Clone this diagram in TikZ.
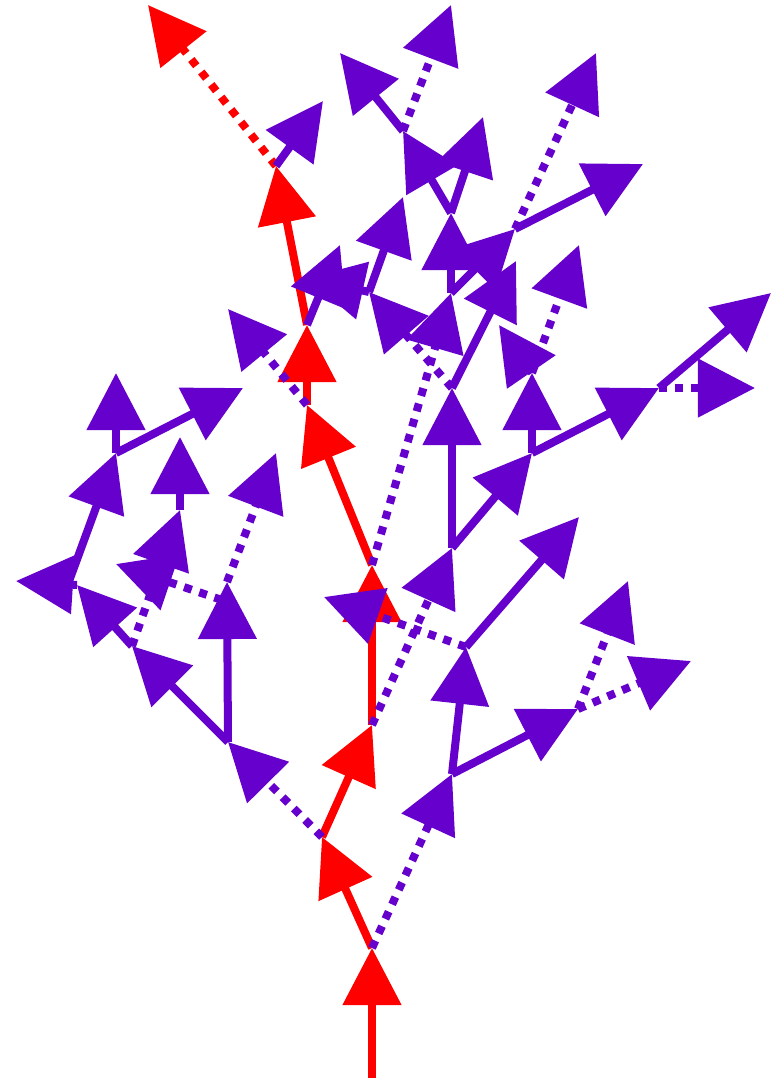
\documentclass[tikz,border=0pt]{standalone}
\usepackage{tikz}
\usetikzlibrary{positioning}
\usetikzlibrary{arrows.meta}

\definecolor{trunkred}{RGB}{255,0,0}
\definecolor{twigviolet}{RGB}{102,0,204}

\begin{document}
\begin{tikzpicture}[x=0.01cm, y=-0.01cm,
		branch/.style={line width=0.8mm, -{Triangle[length=5.7mm, width=5.7mm]}},
		hop/.style={branch, dash pattern=on 0.8mm off 0.8mm},
		trunk/.style={trunkred},
		twig/.style={twigviolet}]
	\useasboundingbox (0,0) rectangle (777,1078);
	\node[shape=coordinate] (r0)  at (372,1078) {};
	\node[shape=coordinate] (n1)  at (372,948) {};
	\node[shape=coordinate] (n2)  at (322,837) {};
	\node[shape=coordinate] (n3)  at (452,774) {};
	\node[shape=coordinate] (n4)  at (372,725) {};
	\node[shape=coordinate] (n5)  at (228,742) {};
	\node[shape=coordinate] (n6)  at (372,565) {};
	\node[shape=coordinate] (n7)  at (452,548) {};
	\node[shape=coordinate] (n8)  at (466,647) {};
	\node[shape=coordinate] (n9)  at (578,709) {};
	\node[shape=coordinate] (n10) at (691,661) {};
	\node[shape=coordinate] (n11) at (628,581) {};
	\node[shape=coordinate] (n12) at (579,517) {};
	\node[shape=coordinate] (n13) at (324,597) {};
	\node[shape=coordinate] (n14) at (452,388) {};
	\node[shape=coordinate] (n15) at (532,453) {};
	\node[shape=coordinate] (n16) at (532,373) {};
	\node[shape=coordinate] (n17) at (659,388) {};
	\node[shape=coordinate] (n18) at (771,293) {};
	\node[shape=coordinate] (n19) at (755,388) {};
	\node[shape=coordinate] (n20) at (579,245) {};
	\node[shape=coordinate] (n21) at (516,261) {};
	\node[shape=coordinate] (n22) at (307,405) {};
	\node[shape=coordinate] (n23) at (307,325) {};
	\node[shape=coordinate] (n24) at (228,309) {};
	\node[shape=coordinate] (n25) at (276,166) {};
	\node[shape=coordinate] (n26) at (148,5) {};
	\node[shape=coordinate] (n27) at (323,101) {};
	\node[shape=coordinate] (n28) at (227,582) {};
	\node[shape=coordinate] (n29) at (132,646) {};
	\node[shape=coordinate] (n30) at (276,453) {};
	\node[shape=coordinate] (s31) at (222,600) {};
	\node[shape=coordinate] (n31) at (116,564) {};
	\node[shape=coordinate] (n32) at (116,453) {};
	\node[shape=coordinate] (n33) at (116,373) {};
	\node[shape=coordinate] (n34) at (243,388) {};
	\node[shape=coordinate] (n35) at (77,585) {};
	\node[shape=coordinate] (s32) at (68,584) {};
	\node[shape=coordinate] (n36) at (16,581) {};
	\node[shape=coordinate] (n37) at (180,510) {};
	\node[shape=coordinate] (n38) at (180,437) {};
	\node[shape=coordinate] (n39) at (369,292) {};
	\node[shape=coordinate] (n40) at (403,197) {};
	\node[shape=coordinate] (n41) at (340,245) {};
	\node[shape=coordinate] (n42) at (307,278) {};
	\node[shape=coordinate] (n43) at (451,213) {};
	\node[shape=coordinate] (n44) at (403,131) {};
	\node[shape=coordinate] (n45) at (340,53) {};
	\node[shape=coordinate] (n46) at (451,5) {};
	\node[shape=coordinate] (n47) at (483,117) {};
	\node[shape=coordinate] (n48) at (451,293) {};
	\node[shape=coordinate] (n49) at (515,229) {};
	\node[shape=coordinate] (n50) at (643,164) {};
	\node[shape=coordinate] (n51) at (596,53) {};
	\node[shape=coordinate] (n52) at (499,325) {};
	\draw[branch, trunk] (r0) -- (n1);
	\draw[branch, trunk] (n1) -- (n2);
	\draw[branch, trunk] (n2) -- (n4);
	\draw[branch, trunk] (n4) -- (n6);
	\draw[branch, trunk] (n6) -- (n22);
	\draw[branch, trunk] (n22) -- (n23);
	\draw[branch, trunk] (n23) -- (n25);
	\draw[hop, trunk] (n25) -- (n26);
	\draw[branch, twig] (n25) -- (n27);
	\draw[branch, twig] (n23) -- (n41);
	\draw[hop, twig] (n22) -- (n24);
	\draw[hop, twig] (n6) -- (n48);
	\draw[branch, twig] (n48) -- (n43);
	\draw[branch, twig] (n43) -- (n44);
	\draw[branch, twig] (n44) -- (n45);
	\draw[hop, twig] (n44) -- (n46);
	\draw[branch, twig] (n43) -- (n47);
	\draw[branch, twig] (n48) -- (n49);
	\draw[branch, twig] (n49) -- (n50);
	\draw[hop, twig] (n49) -- (n51);
	\draw[hop, twig] (n4) -- (n7);
	\draw[branch, twig] (n7) -- (n14);
	\draw[branch, twig] (n14) -- (n21);
	\draw[hop, twig] (n14) -- (n39);
	\draw[branch, twig] (n39) -- (n40);
	\draw[branch, twig] (n39) -- (n42);
	\draw[branch, twig] (n7) -- (n15);
	\draw[branch, twig] (n15) -- (n16);
	\draw[hop, twig] (n16) -- (n20);
	\draw[branch, twig] (n16) -- (n52);
	\draw[branch, twig] (n15) -- (n17);
	\draw[branch, twig] (n17) -- (n18);
	\draw[hop, twig] (n17) -- (n19);
	\draw[hop, twig] (n2) -- (n5);
	\draw[branch, twig] (n5) -- (n28);
	\draw[hop, twig] (n28) -- (n30);
	\draw[hop, twig] (s31) -- (n31);
	\draw[branch, twig] (n5) -- (n29);
	\draw[branch, twig] (n29) -- (n35);
	\draw[branch, twig] (n35) -- (n36);
	\draw[branch, twig] (s32) -- (n32);
	\draw[branch, twig] (n32) -- (n33);
	\draw[branch, twig] (n32) -- (n34);
	\draw[hop, twig] (n29) -- (n37);
	\draw[branch, twig] (n37) -- (n38);
	\draw[hop, twig] (n1) -- (n3);
	\draw[branch, twig] (n3) -- (n8);
	\draw[branch, twig] (n8) -- (n12);
	\draw[hop, twig] (n8) -- (n13);
	\draw[branch, twig] (n3) -- (n9);
	\draw[hop, twig] (n9) -- (n10);
	\draw[hop, twig] (n9) -- (n11);
\end{tikzpicture}
\end{document}
